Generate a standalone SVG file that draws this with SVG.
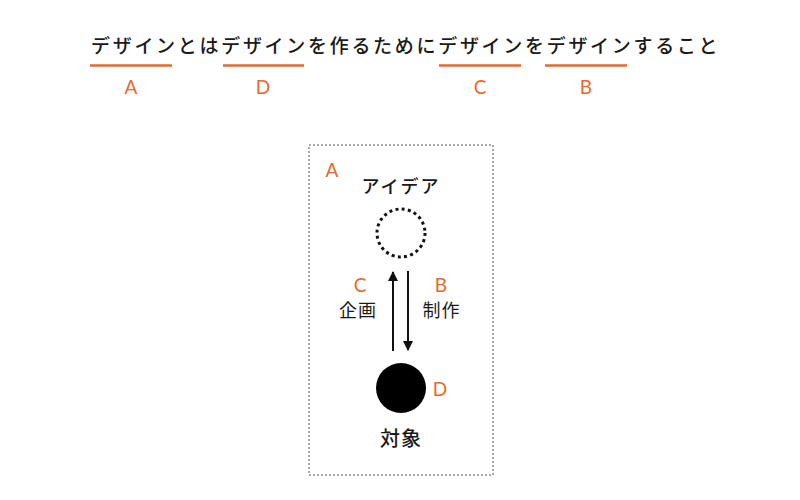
<svg xmlns="http://www.w3.org/2000/svg" width="800" height="500" viewBox="0 0 800 500">
<style>
.jp{font-family:"Noto Sans CJK JP","Noto Sans",sans-serif;fill:#1a1a1a;font-weight:500}
.jpr{font-family:"Noto Sans CJK JP","Noto Sans",sans-serif;fill:#1a1a1a;font-weight:400}
.lbl{font-family:"Lato","Noto Sans",sans-serif;font-weight:400;fill:#E8692C;font-size:19px;text-anchor:middle}
.ul{stroke:#E8692C;stroke-width:2.5}
.arrow{stroke:#111;stroke-width:2;fill:none}
</style>
<defs>
<marker id="ah" viewBox="0 0 10 10" refX="9" refY="5" markerWidth="5" markerHeight="6" markerUnits="strokeWidth" orient="auto">
<path d="M0,0 L10,5 L0,10 z" fill="#111"/>
</marker>
</defs>
<rect width="800" height="500" fill="#fff"/>
<g id="sentence">
<text class="jp" x="91" y="53" font-size="19" letter-spacing="2.7">デザインとはデザインを作るためにデザインをデザインすること</text>
<line class="ul" x1="90" y1="65.5" x2="172" y2="65.5"/>
<line class="ul" x1="223" y1="65.5" x2="304" y2="65.5"/>
<line class="ul" x1="439" y1="65.5" x2="521" y2="65.5"/>
<line class="ul" x1="545" y1="65.5" x2="627" y2="65.5"/>
<text class="lbl" x="131" y="94">A</text>
<text class="lbl" x="263" y="94">D</text>
<text class="lbl" x="480" y="94">C</text>
<text class="lbl" x="586" y="94">B</text>
</g>
<g id="frame">
<rect x="309" y="145" width="184" height="330" fill="none" stroke="#555" stroke-width="1" stroke-dasharray="2 2"/>
<text class="lbl" x="332" y="177">A</text>
</g>
<g id="idea">
<circle cx="401" cy="233" r="24" fill="none" stroke="#111" stroke-width="3" stroke-dasharray="3 3.28"/>
<text class="jp" x="401" y="193" font-size="18" text-anchor="middle" letter-spacing="2">アイデア</text>
</g>
<g id="object">
<circle cx="401" cy="388" r="25" fill="#000"/>
<text class="jp" x="401" y="446" font-size="20" text-anchor="middle" letter-spacing="1">対象</text>
<text class="lbl" x="440" y="396">D</text>
</g>
<g id="connectors">
<line class="arrow" x1="393" y1="351" x2="393" y2="272" marker-end="url(#ah)"/>
<line class="arrow" x1="408" y1="271" x2="408" y2="350" marker-end="url(#ah)"/>
</g>
<g id="labels">
<text class="lbl" x="360" y="292">C</text>
<text class="jpr" x="358" y="317" font-size="18" text-anchor="middle" letter-spacing="1">企画</text>
<text class="lbl" x="441" y="292">B</text>
<text class="jpr" x="441.5" y="317" font-size="18" text-anchor="middle" letter-spacing="1">制作</text>
</g>
</svg>
